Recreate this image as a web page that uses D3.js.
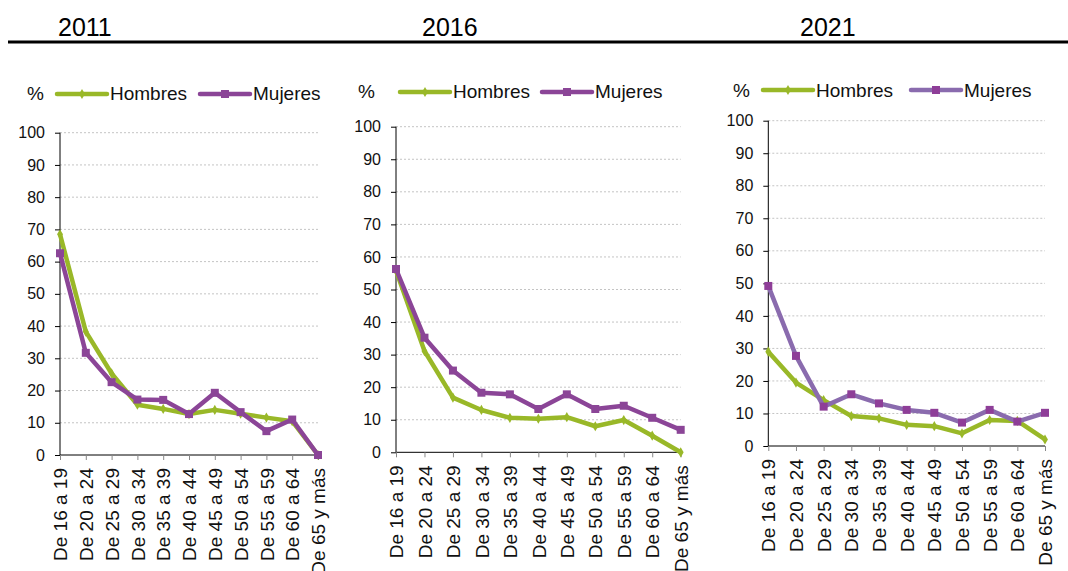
<!DOCTYPE html>
<html>
<head>
<meta charset="utf-8">
<script src="https://cdn.jsdelivr.net/npm/d3@7"></script>
<style>
  html, body { margin: 0; padding: 0; background: #fff; }
  svg { display: block; font-family: "Liberation Sans", Arial, sans-serif; }
</style>
</head>
<body>
<svg id="chart" width="1068" height="571"></svg>
<script>
// Age groups shared by the three panels
const ageGroups = ["De 16 a 19", "De 20 a 24", "De 25 a 29", "De 30 a 34", "De 35 a 39",
  "De 40 a 44", "De 45 a 49", "De 50 a 54", "De 55 a 59", "De 60 a 64", "De 65 y más"];

const years = ["2011", "2016", "2021"];
const seriesNames = ["Hombres", "Mujeres"];
const yTicks = [0, 10, 20, 30, 40, 50, 60, 70, 80, 90, 100];

// Percentages by age group
const hombres2011 = [68.5, 38.3, 25.3, 15.6, 14.3, 12.7, 14.0, 12.8, 11.6, 10.5, 0];
const mujeres2011 = [62.6, 31.7, 22.6, 17.2, 17.1, 12.7, 19.3, 13.3, 7.4, 11.0, 0];

const hombres2016 = [55.8, 31.1, 16.8, 13.0, 10.6, 10.3, 10.8, 8.0, 9.9, 5.1, 0];
const mujeres2016 = [56.3, 35.2, 25.1, 18.3, 17.8, 13.3, 17.8, 13.3, 14.3, 10.6, 6.9];

const hombres2021 = [29.0, 19.5, 14.1, 9.2, 8.5, 6.5, 6.1, 3.9, 8.0, 7.7, 2.0];
const mujeres2021 = [49.2, 27.7, 12.1, 15.9, 13.1, 11.1, 10.2, 7.2, 11.1, 7.5, 10.2];

// Panel layout and styling
const panels = [
  { title: years[0], titleX: 58, hombres: hombres2011, mujeres: mujeres2011,
    x0: 60, x1: 318, yTop: 132.7, yBot: 455,
    pctX: 27, legY: 94, legBase: 100, hLine: 57, mLine: 200,
    mLineColor: "#8b4597", mMarkColor: "#8b4597" },
  { title: years[1], titleX: 422, hombres: hombres2016, mujeres: mujeres2016,
    x0: 396, x1: 680.7, yTop: 126.7, yBot: 452.3,
    pctX: 358, legY: 92, legBase: 98, hLine: 400, mLine: 542,
    mLineColor: "#8b4597", mMarkColor: "#8b4597" },
  { title: years[2], titleX: 800, hombres: hombres2021, mujeres: mujeres2021,
    x0: 768.3, x1: 1045, yTop: 120.7, yBot: 446,
    pctX: 733, legY: 90, legBase: 96.5, hLine: 763, mLine: 911,
    mLineColor: "#8a6bae", mMarkColor: "#8e3e98" }
];

const green = "#99b828";
const svg = d3.select("#chart");

// Rule under the year titles
svg.append("line")
  .attr("x1", 8).attr("x2", 1068).attr("y1", 42).attr("y2", 42)
  .attr("stroke", "#000").attr("stroke-width", 3);

const diamond = d3.symbol().type(d3.symbolDiamond).size(30);
const square = d3.symbol().type(d3.symbolSquare).size(64);

panels.forEach(p => {
  const g = svg.append("g");

  g.append("text")
    .attr("x", p.titleX).attr("y", 36)
    .attr("font-size", 25).attr("fill", "#000")
    .text(p.title);

  const x = d3.scalePoint().domain(ageGroups).range([p.x0, p.x1]);
  const y = d3.scaleLinear().domain([0, 100]).range([p.yBot, p.yTop]);

  // Horizontal gridlines
  g.append("g").selectAll("line")
    .data(yTicks.filter(t => t > 0))
    .join("line")
    .attr("x1", p.x0).attr("x2", p.x1)
    .attr("y1", d => y(d)).attr("y2", d => y(d))
    .attr("stroke", "#c4c4c4").attr("stroke-width", 1)
    .attr("stroke-dasharray", "2,2");

  // Y axis
  const yAxis = g.append("g")
    .attr("transform", `translate(${p.x0},0)`)
    .call(d3.axisLeft(y).tickValues(yTicks).tickSize(5).tickPadding(10));
  yAxis.select(".domain").attr("stroke", "#000").attr("d", `M0,${p.yTop}V${p.yBot}`);
  yAxis.selectAll(".tick line").attr("stroke", "#000");
  yAxis.selectAll(".tick text")
    .attr("font-size", 16).attr("fill", "#111")
    .attr("font-family", "Liberation Sans, Arial, sans-serif");

  // X axis
  const xAxis = g.append("g")
    .attr("transform", `translate(0,${p.yBot})`)
    .call(d3.axisBottom(x).tickSize(5).tickSizeOuter(0));
  xAxis.select(".domain").attr("stroke", "#000").attr("d", `M${p.x0},0H${p.x1}`);
  xAxis.selectAll(".tick line").attr("stroke", "#888");
  xAxis.selectAll(".tick text")
    .attr("font-size", 19).attr("fill", "#111")
    .attr("font-family", "Liberation Sans, Arial, sans-serif")
    .attr("text-anchor", "end")
    .attr("transform", "rotate(-90)")
    .attr("x", -13).attr("y", 0).attr("dy", "0.35em");

  const line = d3.line().x((d, i) => x(ageGroups[i])).y(d => y(d));

  // Hombres
  g.append("path").datum(p.hombres)
    .attr("d", line).attr("fill", "none")
    .attr("stroke", green).attr("stroke-width", 4.5)
    .attr("stroke-linejoin", "round");
  g.append("g").selectAll("path")
    .data(p.hombres).join("path")
    .attr("d", diamond).attr("fill", green)
    .attr("transform", (d, i) => `translate(${x(ageGroups[i])},${y(d)})`);

  // Mujeres
  g.append("path").datum(p.mujeres)
    .attr("d", line).attr("fill", "none")
    .attr("stroke", p.mLineColor).attr("stroke-width", 4.5)
    .attr("stroke-linejoin", "round");
  g.append("g").selectAll("path")
    .data(p.mujeres).join("path")
    .attr("d", square).attr("fill", p.mMarkColor)
    .attr("transform", (d, i) => `translate(${x(ageGroups[i])},${y(d)})`);

  // Legend
  g.append("text").attr("x", p.pctX).attr("y", p.legBase)
    .attr("font-size", 19).attr("fill", "#111").text("%");

  const leg = [
    { name: seriesNames[0], lx: p.hLine, color: green, mark: diamond, mcolor: green },
    { name: seriesNames[1], lx: p.mLine, color: p.mLineColor, mark: square, mcolor: p.mMarkColor }
  ];
  leg.forEach(l => {
    g.append("line")
      .attr("x1", l.lx).attr("x2", l.lx + 50)
      .attr("y1", p.legY).attr("y2", p.legY)
      .attr("stroke", l.color).attr("stroke-width", 4.5)
      .attr("stroke-linecap", "round");
    g.append("path").attr("d", l.mark).attr("fill", l.mcolor)
      .attr("transform", `translate(${l.lx + 25},${p.legY})`);
    g.append("text").attr("x", l.lx + 53).attr("y", p.legBase)
      .attr("font-size", 19).attr("fill", "#111").text(l.name);
  });
});
</script>
</body>
</html>
